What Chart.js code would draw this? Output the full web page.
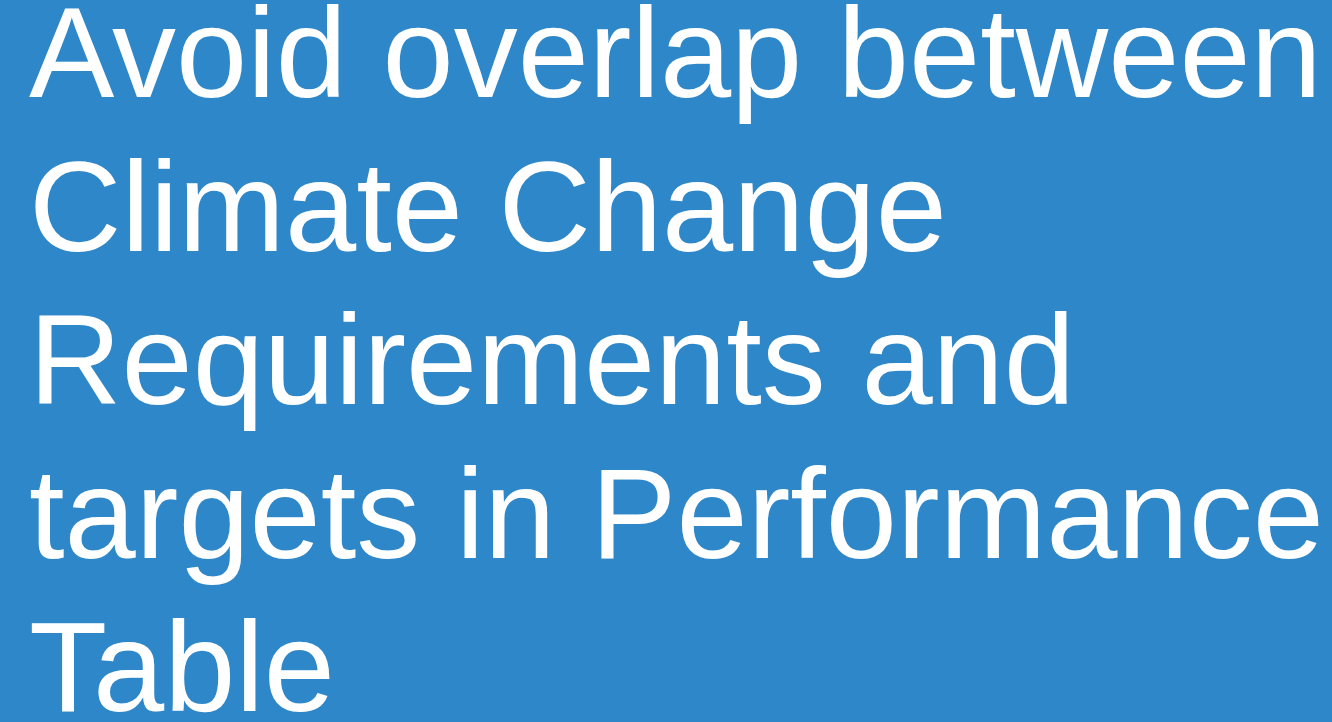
<!DOCTYPE html>
<html>
<head>
<meta charset="utf-8">
<script src="https://cdn.jsdelivr.net/npm/chart.js@4"></script>
<style>
  html, body { margin: 0; padding: 0; background: #2d87c8; overflow: hidden; }
  canvas { display: block; }
</style>
</head>
<body>
<canvas id="slideChart" width="1332" height="722"></canvas>
<script>
// slide text, one entry per line
const titleLines = [
  'Avoid overlap between',
  'Climate Change',
  'Requirements and',
  'targets in Performance',
  'Table'
];
const categories = [];
const seriesValues = [];

const ctx = document.getElementById('slideChart');
new Chart(ctx, {
  type: 'bar',
  data: {
    labels: categories,
    datasets: [{ data: seriesValues, backgroundColor: '#ffffff' }]
  },
  options: {
    responsive: false,
    animation: false,
    layout: { padding: { top: -15, left: 29, right: 0, bottom: 0 } },
    plugins: {
      legend: { display: false },
      tooltip: { enabled: false },
      title: {
        display: true,
        text: titleLines,
        align: 'start',
        color: '#ffffff',
        padding: { top: 0, bottom: 0 },
        font: { family: '"Liberation Sans", Arial, sans-serif', size: 128, weight: 'normal', lineHeight: 1.2 }
      }
    },
    scales: {
      x: { display: false },
      y: { display: false }
    }
  }
});
</script>
</body>
</html>
